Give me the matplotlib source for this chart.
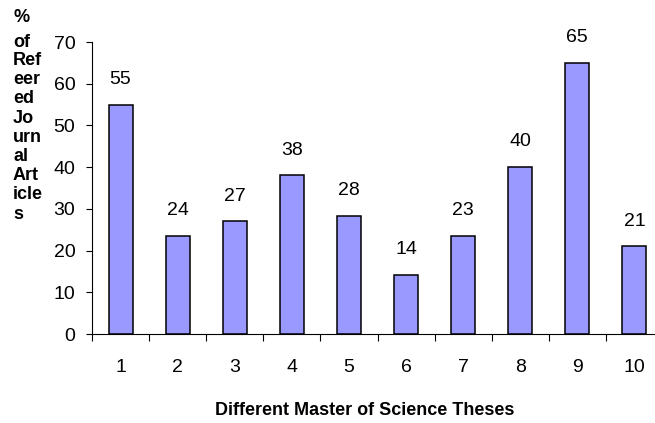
import matplotlib
matplotlib.use("Agg")
import matplotlib.pyplot as plt
import numpy as np

categories = ["1", "2", "3", "4", "5", "6", "7", "8", "9", "10"]
values = [55, 23.5, 27, 38, 28.3, 14.1, 23.5, 40, 65, 21]
value_labels = ["55", "24", "27", "38", "28", "14", "23", "40", "65", "21"]
y_ticks = [0, 10, 20, 30, 40, 50, 60, 70]
ylabel_lines = ["%", "of", "Ref", "eer", "ed", "Jo", "urn", "al", "Art", "icle", "s"]
xlabel = "Different Master of Science Theses"

plt.rcParams['font.family'] = ['Liberation Sans', 'DejaVu Sans']

W, H = 655, 423
fig = plt.figure(figsize=(W / 100, H / 100), dpi=100)
ax = fig.add_axes([92 / W, (H - 334) / H, 571 / W, 292 / H])

x = np.arange(len(categories))
ax.bar(x, values, width=0.42, color='#9999FF', edgecolor='black', linewidth=1.1)

for xi, v, lab in zip(x, values, value_labels):
    ax.annotate(lab, (xi, v), xytext=(0, 15), textcoords='offset points',
                ha='center', va='baseline', fontsize=14)

ax.set_xlim(-0.5, len(categories) - 0.5)
ax.set_ylim(0, 70)
ax.set_yticks(y_ticks)
ax.set_yticklabels([str(t) for t in y_ticks], fontsize=14)
ax.set_xticks(x)
ax.set_xticklabels(categories, fontsize=14)
ax.tick_params(axis='x', which='major', length=0, pad=18)
ax.set_xticks(np.arange(-0.5, len(categories), 1.0), minor=True)
ax.tick_params(axis='x', which='minor', length=5, width=0.8, direction='out')
ax.tick_params(axis='y', length=4, width=0.8, direction='out', pad=8)

for s in ['top', 'right']:
    ax.spines[s].set_visible(False)
for s in ['left', 'bottom']:
    ax.spines[s].set_linewidth(0.8)

# y label drawn line by line
baselines = [22, 47, 65, 84.2, 103.4, 122.6, 141.8, 161, 180.2, 199.4, 218.6]
for line, b in zip(ylabel_lines, baselines):
    fig.text(13 / W, (H - b) / H, line, ha='left', va='baseline',
             fontsize=13, fontweight='bold')

fig.text(365 / W, (H - 415) / H, xlabel, ha='center', va='baseline',
         fontsize=13, fontweight='bold')

fig.savefig("out.png", dpi=100)
